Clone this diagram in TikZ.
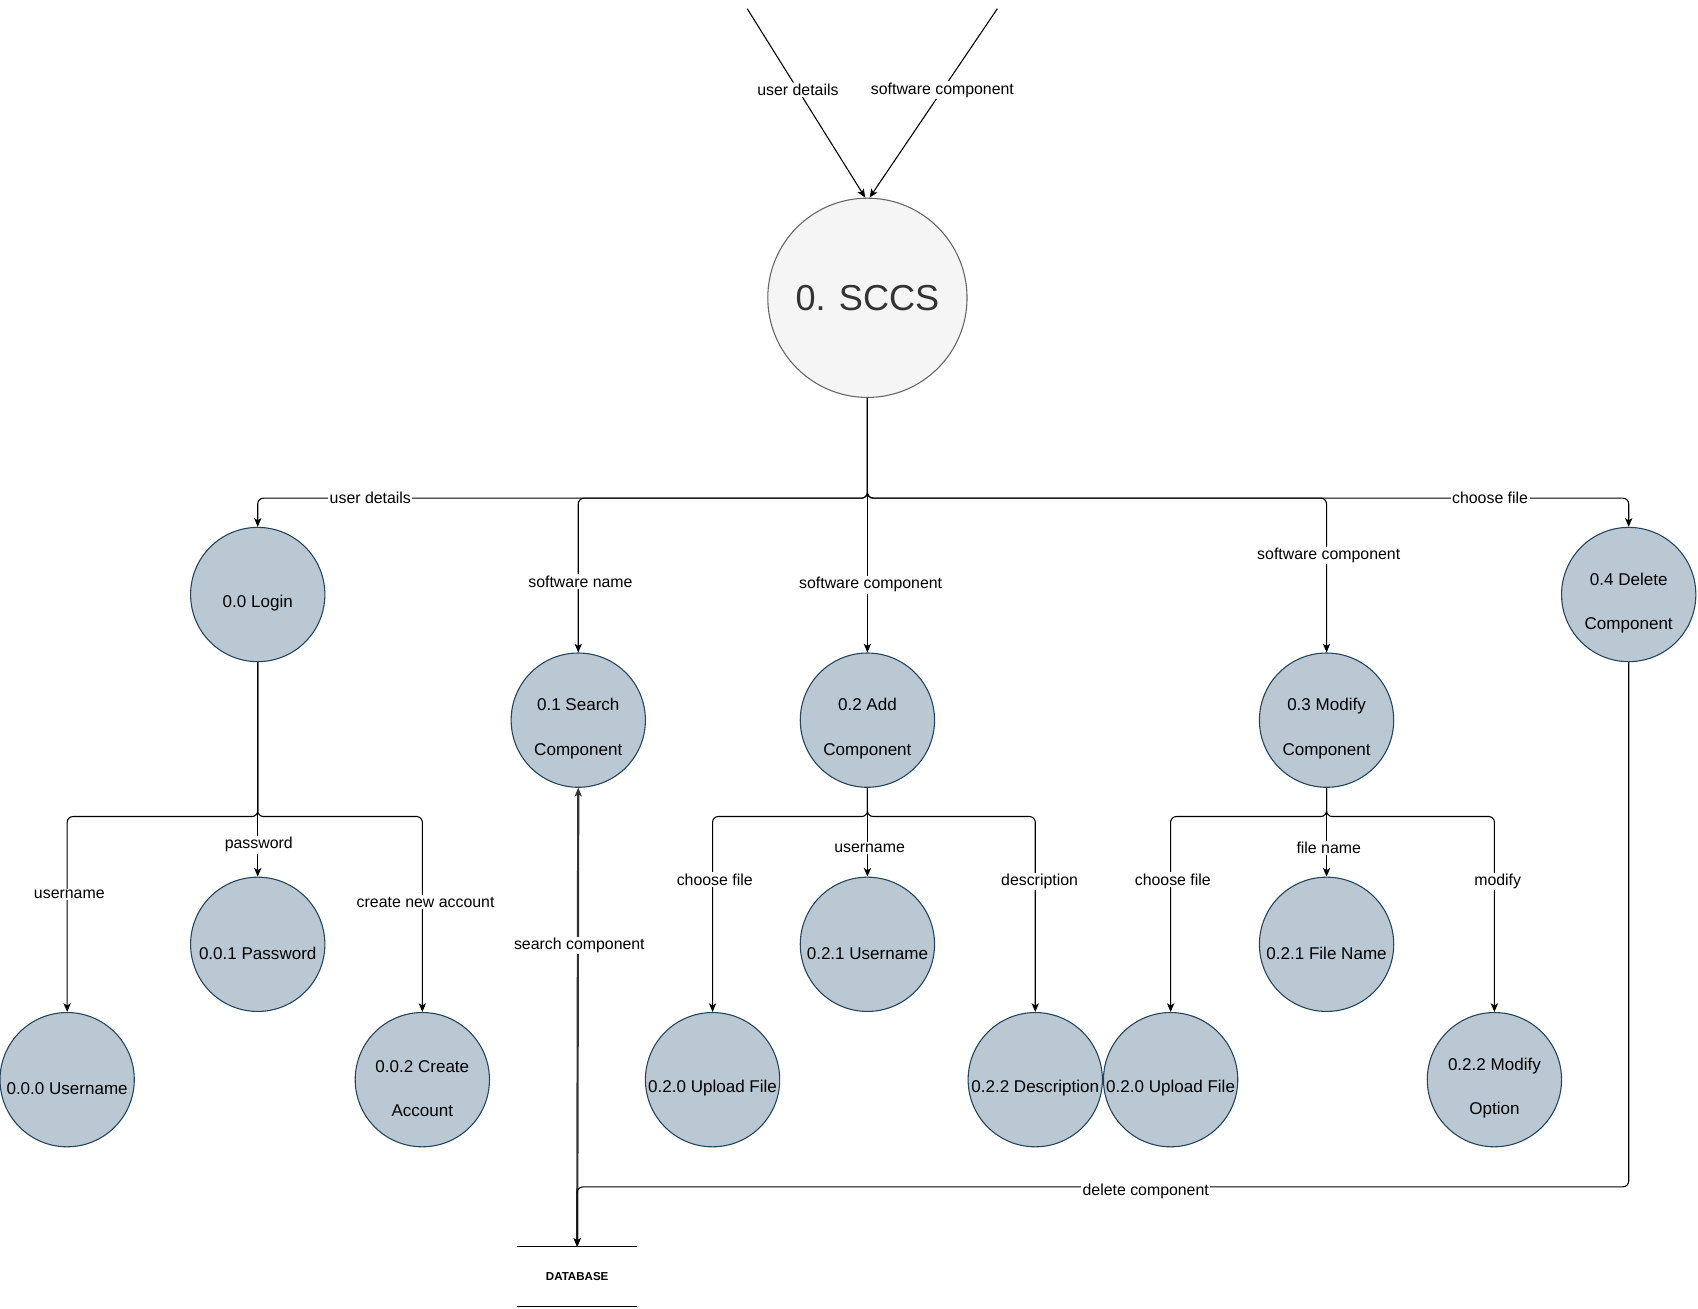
\documentclass[tikz,border=0pt]{standalone}
\usepackage{fontspec}
\setmainfont{Liberation Sans}
\usetikzlibrary{arrows.meta}

\definecolor{procfill}{HTML}{BAC8D3}
\definecolor{procline}{HTML}{23445D}
\definecolor{ctxfill}{HTML}{F5F5F5}
\definecolor{ctxline}{HTML}{666666}
\definecolor{ctxtext}{HTML}{333333}

\newcommand{\tstrut}{\rule{0pt}{20.5pt}}

\begin{document}
\begin{tikzpicture}[x=0.75pt, y=-0.75pt,
  process/.style={circle, draw=procline, fill=procfill, line width=0.75pt, minimum size=93pt, inner sep=0pt, align=center, font=\fontsize{11.8}{30.75}\selectfont},
  flow/.style={draw, line width=0.75pt, rounded corners=4pt, -{Stealth[length=6pt,width=5pt,inset=1.5pt]}},
  lbl/.style={fill=white, inner sep=1pt, font=\fontsize{11}{13}\selectfont}]

\useasboundingbox (0,0) rectangle (1568,1208);

% Context process
\node[circle, draw=ctxline, fill=ctxfill, text=ctxtext, line width=0.75pt, minimum size=138pt, inner sep=0pt, font=\fontsize{25}{30}\selectfont] (sccs) at (801,275) {0. SCCS};

% Incoming flows
\coordinate (ud) at (690,8);
\coordinate (sw) at (921,8);
\draw[flow] (ud) -- node[lbl, pos=0.43] {user details} ([xshift=-1.5pt]sccs.north);
\draw[flow] (sw) -- node[lbl, pos=0.43] {software component} ([xshift=1.5pt]sccs.north);

% Level 1 processes
\node[process] (login) at (238,549) {\tstrut 0.0 Login};
\node[process] (search) at (534,665) {\tstrut 0.1 Search\\Component};
\node[process] (add) at (801,665) {\tstrut 0.2 Add\\Component};
\node[process] (modify) at (1225,665) {\tstrut 0.3 Modify\\Component};
\node[process] (delete) at (1504,549) {\tstrut 0.4 Delete\\Component};

% Level 2 processes
\node[process] (uname) at (62,997) {\tstrut 0.0.0 Username};
\node[process] (pass) at (238,872) {\tstrut 0.0.1 Password};
\node[process] (create) at (390,997) {\tstrut 0.0.2 Create\\Account};
\node[process] (upload) at (658,997) {\tstrut 0.2.0 Upload File};
\node[process] (user) at (801,872) {\tstrut 0.2.1 Username};
\node[process] (desc) at (956,997) {\tstrut 0.2.2 Description};
\node[process] (uploadm) at (1081,997) {\tstrut 0.2.0 Upload File};
\node[process] (fname) at (1225,872) {\tstrut 0.2.1 File Name};
\node[process] (option) at (1380,997) {\tstrut 0.2.2 Modify\\Option};

% Data store
\node[minimum width=83pt, minimum height=41pt, inner sep=0pt, font=\fontsize{8}{10}\selectfont\bfseries] (db) at (533,1179) {DATABASE};
\draw[line width=0.75pt] (db.north west) -- (db.north east);
\draw[line width=0.75pt] (db.south west) -- (db.south east);

% Flows from SCCS
\coordinate (bus) at (801,460);
\draw[flow] (sccs.south) -- (bus) -| (login.north);
\draw[flow] (sccs.south) -- (bus) -| (search.north);
\draw[flow] (sccs.south) -- (add.north);
\draw[flow] (sccs.south) -- (bus) -| (modify.north);
\draw[flow] (sccs.south) -- (bus) -| (delete.north);
\node[lbl] at (342,460) {user details};
\node[lbl] at (536,537) {software name};
\node[lbl] at (804,540) {software component};
\node[lbl] at (1227,513) {software component};
\node[lbl] at (1376,460) {choose file};

% Flows from Login
\coordinate (lbus) at (238,754);
\draw[flow] (login.south) -- (lbus) -| (uname.north);
\draw[flow] (login.south) -- (pass.north);
\draw[flow] (login.south) -- (lbus) -| (create.north);
\node[lbl] at (64,826) {username};
\node[lbl] at (239,780) {password};
\node[lbl] at (393,833) {create new account};

% Flows from Add
\coordinate (abus) at (801,754);
\draw[flow] (add.south) -- (abus) -| (upload.north);
\draw[flow] (add.south) -- (user.north);
\draw[flow] (add.south) -- (abus) -| (desc.north);
\node[lbl] at (660,812) {choose file};
\node[lbl] at (803,783) {username};
\node[lbl] at (960,814) {description};

% Flows from Modify
\coordinate (mbus) at (1225,754);
\draw[flow] (modify.south) -- (mbus) -| (uploadm.north);
\draw[flow] (modify.south) -- (fname.north);
\draw[flow] (modify.south) -- (mbus) -| (option.north);
\node[lbl] at (1083,812) {choose file};
\node[lbl] at (1227,783) {file name};
\node[lbl] at (1383,814) {modify};

% Flows to the database
\draw[flow, draw=black!80, line width=1.5pt, {Stealth[length=6pt,width=5pt,inset=1.5pt]}-{Stealth[length=6pt,width=5pt,inset=1.5pt]}] (db.north) -- (search.south);
\node[lbl] at (535,873) {search component};
\coordinate (dbus) at (1504,1096);
\draw[flow] (delete.south) -- (dbus) -| (db.north);
\node[lbl] at (1058,1100) {delete component};

\end{tikzpicture}
\end{document}
